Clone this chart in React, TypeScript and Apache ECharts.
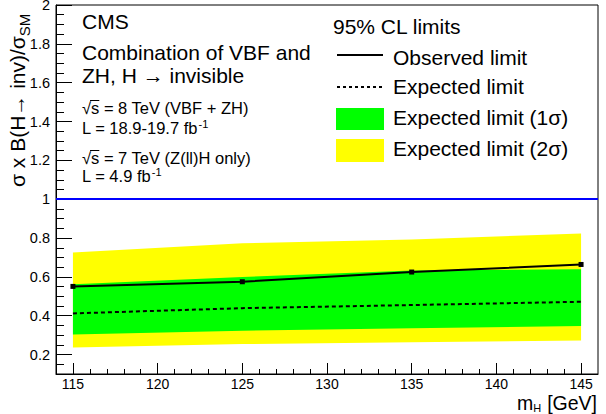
import React, { useEffect, useRef } from "react";
import * as echarts from "echarts";

// Higgs mass points (GeV) and the 95% CL limits on sigma x B(H -> inv) / sigma_SM
const massPoints = [115, 125, 135, 145];
const observedLimit = [0.551, 0.575, 0.625, 0.664];
const expectedLimit = [0.412, 0.439, 0.455, 0.472];
const oneSigmaLow = [0.304, 0.323, 0.335, 0.347];
const oneSigmaHigh = [0.562, 0.6, 0.633, 0.639];
const twoSigmaLow = [0.237, 0.254, 0.264, 0.273];
const twoSigmaHigh = [0.726, 0.773, 0.793, 0.824];
const smReference = 1;

const xTickLabels = [115, 120, 125, 130, 135, 140, 145];
const xMinorTicks = [116, 117, 118, 119, 121, 122, 123, 124, 126, 127, 128, 129, 131, 132, 133, 134, 136, 137, 138, 139, 141, 142, 143, 144];
const yTickLabels = [0.2, 0.4, 0.6, 0.8, 1, 1.2, 1.4, 1.6, 1.8, 2];
const yMinorTicks = [0.15, 0.25, 0.3, 0.35, 0.45, 0.5, 0.55, 0.65, 0.7, 0.75, 0.85, 0.9, 0.95, 1.05, 1.1, 1.15, 1.25, 1.3, 1.35, 1.45, 1.5, 1.55, 1.65, 1.7, 1.75, 1.85, 1.9, 1.95];

const FONT = '"Liberation Sans", Arial, Helvetica, sans-serif';
const GREEN = "#00ff00";
const YELLOW = "#ffff00";
const BLUE = "#0000ff";

let measureCtx: CanvasRenderingContext2D | null = null;
function textWidth(s: string, size: number): number {
  if (!measureCtx) measureCtx = document.createElement("canvas").getContext("2d");
  if (!measureCtx) return s.length * size * 0.55;
  measureCtx.font = `${size}px ${FONT}`;
  return measureCtx.measureText(s).width;
}

function label(x: number, y: number, text: string, size: number, align = "left") {
  return {
    type: "text",
    x,
    y,
    silent: true,
    style: {
      text,
      fontSize: size,
      fontFamily: FONT,
      fill: "#000",
      align,
      verticalAlign: "middle",
      textAlign: align,
      textVerticalAlign: "middle",
    },
  };
}

function sqrtLabel(x: number, y: number, text: string, size: number) {
  const w0 = textWidth("√", size);
  const w1 = textWidth("√s", size);
  return [
    label(x, y, "√s" + text, size),
    {
      type: "line",
      silent: true,
      shape: { x1: x + w0 - 1, y1: y - 7.5, x2: x + w1, y2: y - 7.5 },
      style: { stroke: "#000", lineWidth: 1 },
    },
  ];
}

function lumiLabel(x: number, y: number, text: string, size: number) {
  const w = textWidth(text, size);
  return [label(x, y, text, size), label(x + w + 0.5, y - 4, "-1", 11)];
}

const pairs = (ys: number[]) => massPoints.map((m, i) => [m, ys[i]]);
const bandRows = (lo: number[], hi: number[]) => massPoints.map((m, i) => [m, lo[i], hi[i]]);

// A filled band between the low and high edges, built through the axis scales.
function bandSeries(name: string, rows: number[][], color: string, z: number) {
  return {
    name,
    type: "custom",
    data: rows,
    silent: true,
    z,
    encode: { x: 0, y: [1, 2] },
    renderItem: (params: any, api: any) => {
      if (params.dataIndex !== 0) return null;
      const upper = rows.map((r) => api.coord([r[0], r[2]]));
      const lower = rows.map((r) => api.coord([r[0], r[1]])).reverse();
      return {
        type: "polygon",
        shape: { points: upper.concat(lower) },
        style: { fill: color, stroke: "none" },
      };
    },
  };
}

function buildOption() {
  const yTitle = "σ x B(H→ inv)/σ";
  const yTitleW = textWidth(yTitle, 21);

  const xTitleSize = 19.5;
  const gevW = textWidth("[GeV]", xTitleSize);
  const hW = textWidth("H", 11);
  const mW = textWidth("m", xTitleSize);
  const gevRight = 597;
  const hX = gevRight - gevW - 6 - hW;
  const mX = hX - mW;

  const graphic: any[] = [
    // annotation block
    label(82, 21, "CMS", 21),
    label(82, 52, "Combination of VBF and", 21),
    label(82, 75, "ZH, H → invisible", 21),
    ...sqrtLabel(82, 108, " = 8 TeV (VBF + ZH)", 16.5),
    ...lumiLabel(82, 128, "L = 18.9-19.7 fb", 16.5),
    ...sqrtLabel(82, 158, " = 7 TeV (Z(ll)H only)", 16.5),
    ...lumiLabel(82, 176, "L = 4.9 fb", 16.5),

    // legend
    label(333, 26, "95% CL limits", 21),
    { type: "line", silent: true, shape: { x1: 337, y1: 55, x2: 383, y2: 55 }, style: { stroke: "#000", lineWidth: 2 } },
    label(393, 57, "Observed limit", 21),
    { type: "line", silent: true, shape: { x1: 337, y1: 87, x2: 383, y2: 87 }, style: { stroke: "#000", lineWidth: 2, lineDash: [3, 3] } },
    label(393, 86, "Expected limit", 21),
    { type: "rect", silent: true, shape: { x: 336, y: 108, width: 48, height: 22 }, style: { fill: GREEN } },
    label(393, 117, "Expected limit (1σ)", 21),
    { type: "rect", silent: true, shape: { x: 336, y: 139, width: 48, height: 23 }, style: { fill: YELLOW } },
    label(393, 148, "Expected limit (2σ)", 21),

    // y axis title, reading bottom to top
    {
      type: "group",
      x: 17,
      y: 187,
      rotation: Math.PI / 2,
      children: [label(0, 0, yTitle, 21), label(yTitleW, 7, "SM", 15)],
    },

    // x axis title
    label(mX, 403, "m", xTitleSize),
    label(hX, 407.5, "H", 11),
    label(gevRight, 402.5, "[GeV]", xTitleSize, "right"),
  ];

  return {
    animation: false,
    grid: {
      left: 56,
      right: 8,
      top: 5,
      bottom: 40,
      show: true,
      borderColor: "#000",
      borderWidth: 1,
      backgroundColor: "transparent",
      outerBoundsMode: "none",
    },
    xAxis: [
      {
        type: "value",
        min: 114,
        max: 146,
        position: "bottom",
        axisLine: { show: true, lineStyle: { color: "#000", width: 1 } },
        axisTick: { show: true, inside: true, length: 11, customValues: xTickLabels, lineStyle: { color: "#000" } },
        axisLabel: {
          customValues: xTickLabels,
          color: "#000",
          fontFamily: FONT,
          fontSize: 14,
          margin: 3,
          formatter: (v: number) => String(v),
        },
        splitLine: { show: false },
      },
      {
        type: "value",
        min: 114,
        max: 146,
        position: "bottom",
        offset: 0,
        axisLine: { show: false },
        axisTick: { show: true, inside: true, length: 5, customValues: xMinorTicks, lineStyle: { color: "#000" } },
        axisLabel: { show: false },
        splitLine: { show: false },
      },
    ],
    yAxis: [
      {
        type: "value",
        min: 0.1,
        max: 2,
        position: "left",
        axisLine: { show: true, lineStyle: { color: "#000", width: 1 } },
        axisTick: { show: true, inside: true, length: 16, customValues: yTickLabels, lineStyle: { color: "#000" } },
        axisLabel: {
          customValues: yTickLabels,
          color: "#000",
          fontFamily: FONT,
          fontSize: 14.5,
          margin: 6,
          formatter: (v: number) => String(Math.round(v * 100) / 100),
        },
        splitLine: { show: false },
      },
      {
        type: "value",
        min: 0.1,
        max: 2,
        position: "left",
        offset: 0,
        axisLine: { show: false },
        axisTick: { show: true, inside: true, length: 8, customValues: yMinorTicks, lineStyle: { color: "#000" } },
        axisLabel: { show: false },
        splitLine: { show: false },
      },
    ],
    series: [
      bandSeries("Expected limit (2σ)", bandRows(twoSigmaLow, twoSigmaHigh), YELLOW, 1),
      bandSeries("Expected limit (1σ)", bandRows(oneSigmaLow, oneSigmaHigh), GREEN, 2),
      {
        name: "Expected limit",
        type: "line",
        data: pairs(expectedLimit),
        symbol: "none",
        lineStyle: { color: "#000", width: 2, type: [4, 3] },
        silent: true,
        z: 3,
      },
      {
        name: "Observed limit",
        type: "line",
        data: pairs(observedLimit),
        symbol: "rect",
        symbolSize: 5,
        showSymbol: true,
        itemStyle: { color: "#000" },
        lineStyle: { color: "#000", width: 2 },
        silent: true,
        z: 4,
        markLine: {
          silent: true,
          symbol: ["none", "none"],
          label: { show: false },
          lineStyle: { color: BLUE, width: 2, type: "solid" },
          data: [{ yAxis: smReference }],
        },
      },
    ],
    graphic,
  };
}

export default function App() {
  const ref = useRef<HTMLDivElement>(null);

  useEffect(() => {
    document.body.style.margin = "0";
    if (!ref.current) return;
    const chart = echarts.init(ref.current, null, { renderer: "svg" });
    chart.setOption(buildOption() as any);
    return () => chart.dispose();
  }, []);

  return <div ref={ref} style={{ width: 606, height: 414, background: "#fff" }} />;
}
